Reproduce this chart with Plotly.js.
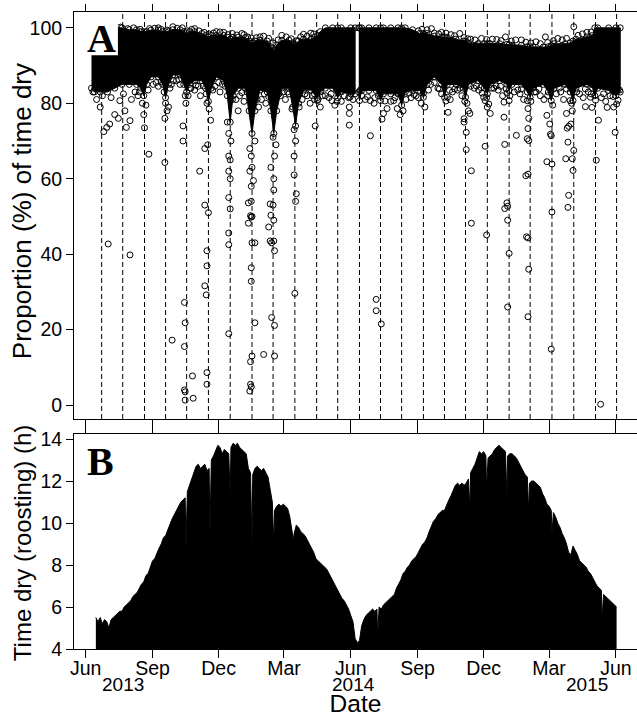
<!DOCTYPE html>
<html>
<head>
<meta charset="utf-8">
<script src="https://cdn.plot.ly/plotly-3.0.1.min.js"></script>
<style>
  html, body { margin: 0; padding: 0; background: #fff; }
  #plot { width: 637px; height: 717px; }
</style>
</head>
<body>
<div id="plot"></div>
<script>
const PLOT_ID = 'plot';
const DAY_MS = 86400000;

// x axis
const X_RANGE = ['2013-05-15 22:00', '2015-06-30 02:00'];
const monthTicks = ['2013-06-01', '2013-09-01', '2013-12-01', '2014-03-01', '2014-06-01',
    '2014-09-01', '2014-12-01', '2015-03-01', '2015-06-01'];
const monthLabels = ['Jun', 'Sep', 'Dec', 'Mar', 'Jun', 'Sep', 'Dec', 'Mar', 'Jun'];
const yearLabels = ['2013', '2014', '2015'];
const yearLabelDates = ['2013-07-23', '2014-06-05', '2015-04-22'];

// full moon dates (dashed lines)
const fullMoons = ['2013-06-23', '2013-07-22', '2013-08-21', '2013-09-19', '2013-10-18', '2013-11-17',
    '2013-12-17', '2014-01-16', '2014-02-14', '2014-03-16', '2014-04-15', '2014-05-14', '2014-06-13',
    '2014-07-12', '2014-08-10', '2014-09-09', '2014-10-08', '2014-11-06', '2014-12-06', '2015-01-05',
    '2015-02-03', '2015-03-05', '2015-04-04', '2015-05-04', '2015-06-02'];

// Panel A: days counted from 2013-06-01
const A_ORIGIN = '2013-06-01';

// dense core of the cloud (where circles overlap into solid black)
const coreBreakDay = 374; // logger gap in June 2014
const coreDay = [8, 12, 20, 30, 40, 50, 60, 70, 76, 80, 84, 90, 100, 106, 110, 114, 120, 130, 135, 139,
    143, 150, 160, 165, 169, 173, 180, 190, 195, 199, 203, 210, 220, 225, 229, 233, 240, 250, 255, 259,
    263, 270, 280, 285, 289, 293, 300, 310, 315, 319, 323, 330, 340, 347, 352, 365, 371,
    376, 377, 380, 390, 400, 406, 410, 420, 430, 435, 440, 450, 460, 465, 470, 480, 490, 494, 498,
    510, 520, 523, 527, 540, 549, 553, 557, 570, 580, 583, 587, 600, 608, 612, 616, 630, 637, 641,
    645, 660, 667, 671, 675, 690, 698, 701, 705, 720, 730, 736];
const coreLow = [84, 83, 83, 83, 84, 85, 85, 85, 84, 82, 85, 87, 87, 85, 81.5, 85, 87.5, 87.5, 85, 83,
    85, 86, 86, 84, 80.5, 84, 87, 86, 82, 75, 82, 84, 84, 78, 72, 78, 83.5, 83, 78, 72,
    78, 84, 84, 79, 74, 80, 83.5, 83.5, 82.5, 81.5, 83, 84, 84, 81.5, 83, 82.5, 82.5,
    83, 80.7, 83.4, 83.4, 83.4, 80.7, 82.5, 82.5, 82.5, 79.5, 83, 83.4, 83.4, 81.6, 85, 87, 85, 81.6, 85,
    85, 84, 81.6, 85, 86, 84, 82.5, 85, 86, 85, 83.4, 85, 85, 83, 81.6, 84, 85, 83, 80.7,
    84, 85, 83, 80.7, 84, 85, 84, 82, 84, 83.4, 82, 83];
const coreHigh = [96, 97, 99, 100, 100, 100, 99.5, 99.5, 99, 99, 99, 99.4, 99.4, 99, 99, 99, 99.5, 99.5, 99, 98.5,
    99, 99, 98.5, 98, 97.5, 98, 98, 98, 97.5, 97, 97.5, 97.5, 97.5, 96.5, 96, 96.5, 96.7, 96.5, 95, 94,
    95.5, 96.7, 96.7, 96, 95.5, 96.5, 97, 97, 97.5, 98, 99, 100, 100, 100, 100, 100, 100,
    100, 100, 100, 100, 100, 100, 100, 100, 100, 100, 100, 99.5, 98.5, 98.5, 98.5, 97.8, 97.6, 97.6, 97.5,
    97, 96.5, 96.5, 96, 95.8, 95.8, 95.8, 95.8, 95.8, 95.6, 95.5, 95.4, 95.4, 95, 95, 95, 94.9, 95, 95.3,
    95.8, 95.8, 96, 96.5, 97, 97.6, 98, 100, 100, 100, 100, 100];

// individual circles outside the core
const ptDay = [13, 15, 20, 25, 29, 33, 40, 45, 47, 54, 56, 61, 63,
    78, 80, 81, 83, 87, 108, 110, 112, 114, 109, 109, 134, 134, 138, 141,
    167, 170, 172, 168, 164, 157, 164, 169,
    195, 197, 200, 197, 199, 197, 199, 197, 199, 210,
    226, 228, 229, 226, 231, 228, 228, 229, 238, 233,
    258, 260, 255, 259, 259, 258, 259, 262,
    287, 289, 287, 287, 290, 289, 315, 316, 323,
    31, 61, 119, 136, 137, 136, 136, 137, 137, 148, 147,
    167, 167, 164, 166, 167, 167, 197, 197, 197,
    224, 227, 228, 229, 233, 228, 228, 233, 229, 227, 227, 228, 226, 224,
    255, 252, 254, 259, 256, 260, 256, 260, 245, 260, 254, 288,
    319, 339, 364, 363, 363, 363, 378, 392, 392, 397, 410, 408, 415, 429, 424, 445, 465,
    498, 499, 502, 521, 521, 524, 525, 527, 529, 524, 531,
    550, 555, 553, 557, 550, 548, 576, 577, 583, 576, 580, 578,
    608, 609, 610, 609, 608, 610, 606, 609, 593,
    635, 639, 640, 641, 635, 642, 633,
    662, 670, 665, 663, 668, 664, 672, 661, 670, 671, 667, 672,
    688, 697, 706, 703, 695, 729, 727, 718,
    400, 400, 407, 531, 552, 580, 581, 577, 581, 583, 581, 607, 609, 610, 609, 642, 641, 664, 665, 709,
    145, 150, 155, 158, 178, 185, 188, 207, 212, 218, 242, 248, 268, 275, 280, 298, 305, 309,
    330, 335, 343, 352, 385, 398, 420, 433, 437, 448, 455, 462, 467, 475, 485, 490, 505, 512, 518,
    535, 541, 546, 562, 568, 574, 590, 598, 603, 620, 626, 631, 648, 654, 658, 680, 685, 692,
    710, 716, 722, 733, 735,
    10, 18, 23, 35, 52, 68, 72, 93, 100, 118, 125, 130,
    100, 120, 150, 180, 190, 215, 245, 270, 300, 310, 470, 490, 515, 530, 545, 560, 600, 620, 650, 690, 476];
const ptVal = [86, 81, 79, 72.5, 73.6, 74.5, 77, 76, 80.7, 78, 73.6, 75.4, 81,
    80, 77, 73.5, 79.5, 66.5, 83, 80, 78, 79, 76, 64.3, 74, 70, 80, 82,
    80, 78.5, 75.5, 69, 68, 62, 53, 51,
    75, 72, 70, 66, 65, 62, 60, 55, 52, 78,
    68, 66, 63, 62, 59.5, 58, 54, 50, 79, 70,
    71, 66, 63, 60, 57, 53, 49, 69,
    73, 70, 66, 61, 56, 54, 81, 74, 79,
    42.7, 39.8, 17.2, 27.2, 21.8, 15.5, 4, 3.5, 1.3, 1.8, 7.7,
    40.9, 36.9, 31.6, 29.2, 8.6, 5.5, 45.6, 42.5, 18.9,
    48.2, 50.2, 49.8, 43, 43, 36.4, 32.8, 21.8, 13, 11.5, 5.5, 4.8, 3.7, 53.6,
    50.3, 47.2, 43.5, 43.5, 43, 40.9, 23.2, 21.1, 13.4, 13, 53.3, 29.6,
    80.7, 80.7, 81.6, 79, 77.3, 74.2, 83.5, 80.7, 71.4, 80, 77.3, 75.8, 78.6, 78.6, 80.7, 82.7, 82.7,
    81.6, 77.6, 81, 75.9, 75, 72.3, 80, 78, 77.3, 67.7, 62.1,
    80.7, 79.8, 79, 77.3, 68.6, 81.6, 76.3, 69.1, 80.7, 80.3, 82.7, 97.6,
    80.7, 78.6, 76, 73.3, 70.6, 70.1, 60.8, 61.2, 71.5,
    76.8, 74.5, 71.8, 71.4, 64.5, 63.9, 97.6,
    77.3, 78, 73.9, 73.4, 74.5, 69.7, 67.5, 65.3, 65.3, 62.2, 80.7, 100.3,
    79.1, 78.9, 75.5, 64.9, 81.6, 72.3, 79, 78.9,
    28, 25, 21.5, 48.2, 45.1, 53.6, 52.7, 52.1, 49, 40.2, 26, 44.6, 44.3, 36, 23.4, 51.2, 14.8, 52.4, 55.6, 0.2,
    84, 83.5, 84.5, 82, 84.5, 83, 85, 81, 82, 80.5, 81, 80, 82, 81, 82.5, 81, 82, 80,
    82, 81.5, 79.5, 80.5, 81, 81.5, 80.5, 77, 78, 81.5, 82, 80, 79, 85, 84, 82.5, 83, 83.5, 82,
    84, 83.5, 82.7, 84, 83.5, 82, 83, 82.5, 81, 83, 82, 81, 82.5, 83, 81, 82.5, 81.5, 83,
    81.5, 80.5, 82, 80.8, 83.5,
    83, 84, 82, 81.5, 82.5, 83, 82, 85, 84.5, 85, 86, 85,
    100, 100.3, 99.8, 99, 98.8, 98.5, 97.8, 98, 98.3, 98.6, 99.5, 98.8, 98.5, 97, 97.2, 97, 96.8, 96.3, 97.2, 98.8, 99.8];

// more circles along the upper and lower edge of the core, [day, %]
const edgeTop = [[48, 100.2], [58, 99.8], [66, 100], [75, 99.6], [88, 99.8], [95, 99.9], [104, 99.6], [112, 99.4],
    [126, 99.9], [133, 100], [140, 99.2], [146, 99.6], [156, 99.2], [163, 98.8], [170, 98.4], [176, 98.6],
    [185, 98.9], [196, 98.2], [202, 98.5], [208, 98.1], [218, 98.2], [223, 97.6], [228, 97.3], [235, 97.4],
    [240, 97.6], [252, 97.2], [258, 96], [265, 96.8], [276, 97.6], [283, 97.1], [290, 96.6], [296, 97.6],
    [305, 97.8], [314, 98.4], [458, 99.2], [463, 99.6], [480, 98.6], [486, 98.4], [496, 98.6], [503, 98.2],
    [508, 97.9], [521, 97.4], [526, 97.1], [536, 96.8], [552, 96.9], [566, 96.9], [572, 96.6], [586, 96.5],
    [592, 96.8], [606, 96.2], [613, 96], [626, 95.8], [636, 96.1], [644, 96.6], [656, 96.8], [662, 97.2],
    [678, 98], [684, 98.4], [696, 98.9]];
const edgeLow = [[74, 83], [86, 83.5], [97, 85.5], [104, 85.7], [116, 84], [121, 86], [128, 86.3], [137, 82],
    [144, 84], [152, 84.8], [162, 84.6], [166, 82.5], [175, 83.5], [183, 85.5], [192, 84.5], [202, 81],
    [215, 82.8], [222, 83], [236, 81], [246, 82.5], [252, 81.8], [266, 82.5], [272, 83], [278, 83],
    [284, 78.5], [294, 79], [302, 82.5], [312, 82], [320, 81], [326, 82], [338, 82.5], [346, 80.5],
    [356, 82], [362, 81.5], [368, 81], [380, 82], [388, 81.7], [403, 82], [412, 80.6], [426, 81.5],
    [441, 81], [452, 82.3], [458, 81.5], [472, 83.5], [480, 85.5], [487, 83.8], [496, 80.6], [501, 83.4],
    [508, 83.8], [515, 84], [522, 80.5], [530, 84.5], [538, 84.6], [544, 84.2], [552, 81.5], [559, 84],
    [565, 84.6], [571, 84.5], [579, 83.8], [584, 82], [595, 83.5], [600, 83.8], [613, 80.5], [618, 83],
    [624, 83.8], [636, 82], [643, 79.5], [652, 84], [662, 83.8], [669, 80], [676, 83], [688, 83.8],
    [696, 82.5], [702, 80.8], [713, 82.5], [726, 81.8], [731, 79.8]];

// Panel B: time dry while roosting, every 3 days from 2013-06-15
const dryStart = '2013-06-15';
const dryStep = 3;
const dryHours = [5.5, 5.3, 5.5, 5.2, 5.4, 5.3, 5.0, 5.4, 5.5, 5.6, 5.7, 5.8, 5.8, 6.0, 6.1, 6.2, 6.3, 6.5, 6.6, 6.7,
    6.9, 7.1, 7.2, 7.5, 7.6, 7.9, 8.2, 8.3, 8.6, 8.8, 9.0, 9.3, 9.4, 9.7, 9.9, 10.2, 10.4, 10.6, 10.8, 11.0,
    11.1, 11.2, 11.5, 11.8, 12.1, 12.3, 12.7, 12.8, 12.6, 12.7, 12.8, 12.5, 12.6, 13.0, 13.2, 13.5, 13.7, 13.6, 13.3, 13.5,
    13.4, 13.3, 13.6, 13.8, 13.7, 13.8, 13.6, 13.5, 13.4, 13.3, 12.6, 12.4, 12.3, 12.6, 12.7, 12.6, 12.5, 12.6, 12.4, 12.2,
    11.6, 11.0, 10.6, 10.8, 10.9, 10.8, 10.9, 10.8, 10.7, 10.3, 9.6, 9.5, 9.9, 9.8, 9.6, 9.5, 9.4, 9.2, 9.0, 8.8,
    8.6, 8.3, 8.2, 8.1, 8.0, 7.9, 7.8, 7.6, 7.4, 7.2, 7.0, 6.8, 6.6, 6.4, 6.3, 6.1, 5.9, 5.6, 5.3, 4.5,
    4.3, 4.4, 5.1, 5.4, 5.6, 5.7, 5.8, 5.9, 5.8, 5.9, 6.0, 5.9, 6.1, 6.2, 6.3, 6.4, 6.5, 6.6, 6.9, 7.1,
    7.3, 7.6, 7.7, 7.9, 8.0, 8.2, 8.3, 8.4, 8.6, 8.8, 9.0, 9.1, 9.3, 9.6, 9.9, 10.1, 10.2, 10.4, 10.5, 10.6,
    10.6, 10.9, 11.1, 11.3, 11.6, 11.8, 11.9, 11.8, 11.9, 11.8, 11.9, 12.1, 12.4, 12.6, 12.8, 13.1, 13.4, 13.3, 13.4, 13.2,
    13.1, 13.2, 13.3, 13.5, 13.6, 13.7, 13.6, 13.5, 13.4, 13.2, 13.3, 13.3, 13.2, 13.1, 12.9, 12.7, 12.5, 12.3, 12.2, 11.9,
    12.0, 12.0, 11.9, 11.8, 11.7, 11.4, 11.2, 10.9, 10.8, 10.6, 10.5, 10.3, 10.0, 9.8, 9.5, 9.3, 9.0, 8.6, 8.5, 8.9,
    8.7, 8.5, 8.2, 8.1, 8.0, 7.9, 7.7, 7.6, 7.4, 7.2, 7.0, 6.9, 6.8, 6.6, 6.5, 6.4, 6.3, 6.2, 6.1, 6.0];
// single-day drops (days after dryStart)
const drySpikeDay = [124, 157, 185, 215, 245, 272, 388, 515, 538, 566, 596, 628, 697];
const drySpikeHours = [8.8, 9.4, 11.2, 9.0, 9.0, 9.2, 4.6, 10.7, 11.6, 11.2, 10.5, 9.5, 5.4];

const dayToDate = (origin, d) => new Date(Date.parse(origin) + d * DAY_MS).toISOString().slice(0, 10);

// closed polygon per segment (low forward, high back), segments split by null
const buildCore = () => {
    const x = [], y = [];
    const segs = [[], []];
    coreDay.forEach((d, i) => segs[d < coreBreakDay ? 0 : 1].push(i));
    segs.forEach((idx, k) => {
        if (k) { x.push(null); y.push(null); }
        idx.forEach(i => { x.push(dayToDate(A_ORIGIN, coreDay[i])); y.push(coreLow[i]); });
        idx.slice().reverse().forEach(i => { x.push(dayToDate(A_ORIGIN, coreDay[i])); y.push(coreHigh[i]); });
    });
    return { x, y };
};

const buildDry = () => {
    const pts = dryHours.map((h, i) => [i * dryStep, h]);
    drySpikeDay.forEach((d, i) => pts.push([d, drySpikeHours[i]]));
    pts.sort((a, b) => a[0] - b[0]);
    return { x: pts.map(p => dayToDate(dryStart, p[0])), y: pts.map(p => p[1]) };
};

const core = buildCore();
const dry = buildDry();
const edges = edgeTop.concat(edgeLow);

const circle = { symbol: 'circle-open', size: 6, color: '#000', line: { width: 1 } };

const traces = [
    {
        x: core.x, y: core.y, xaxis: 'x', yaxis: 'y',
        type: 'scatter', mode: 'lines+markers', fill: 'toself',
        fillcolor: '#000', line: { color: '#000', width: 1 }, marker: circle, hoverinfo: 'none'
    },
    {
        x: ptDay.map(d => dayToDate(A_ORIGIN, d)).concat(edges.map(p => dayToDate(A_ORIGIN, p[0]))),
        y: ptVal.concat(edges.map(p => p[1])),
        xaxis: 'x', yaxis: 'y',
        type: 'scatter', mode: 'markers', marker: circle, hoverinfo: 'none'
    },
    {
        x: dry.x, y: dry.y, xaxis: 'x2', yaxis: 'y2',
        type: 'scatter', mode: 'lines', fill: 'tozeroy',
        fillcolor: '#000', line: { color: '#000', width: 1 }, hoverinfo: 'none'
    }
];

const axisBase = {
    showline: true, linecolor: '#000', linewidth: 1,
    ticks: 'outside', tickcolor: '#000', tickwidth: 1,
    showgrid: false, zeroline: false, fixedrange: true
};

const shapes = fullMoons.map(d => ({
    type: 'line', xref: 'x', yref: 'y domain', x0: d, x1: d, y0: 0, y1: 1,
    line: { color: '#000', width: 1, dash: '5px,3px' }, layer: 'below'
}));
// white box behind the panel letter
shapes.push({
    type: 'rect', xref: 'x domain', yref: 'y domain', x0: 0.002, x1: 0.078, y0: 0.894, y1: 0.997,
    fillcolor: '#fff', line: { width: 0 }, layer: 'above'
});

const letterFont = { family: 'Liberation Serif, serif', size: 40, color: '#000' };
const annotations = [
    { text: '<b>A</b>', xref: 'x domain', yref: 'y domain', x: 0.02, y: 0.935, xanchor: 'left', yanchor: 'middle',
      showarrow: false, font: letterFont },
    { text: '<b>B</b>', xref: 'x2 domain', yref: 'y2 domain', x: 0.02, y: 0.874, xanchor: 'left', yanchor: 'middle',
      showarrow: false, font: letterFont },
    // y titles placed by hand so they sit where the reference has them
    { text: 'Proportion (%) of time dry', xref: 'paper', yref: 'paper', x: -0.092, y: 0.6876, textangle: -90,
      xanchor: 'center', yanchor: 'middle', showarrow: false, font: { size: 26, color: '#000' } },
    { text: 'Time dry (roosting) (h)', xref: 'paper', yref: 'paper', x: -0.092, y: 0.1664, textangle: -90,
      xanchor: 'center', yanchor: 'middle', showarrow: false, font: { size: 24, color: '#000' } }
];
yearLabels.forEach((t, i) => annotations.push({
    text: t, xref: 'x2', yref: 'paper', x: yearLabelDates[i], y: -0.0565,
    xanchor: 'center', yanchor: 'middle', showarrow: false, font: { size: 19, color: '#000' }
}));

const layout = {
    width: 637, height: 717,
    margin: { l: 74, r: 0, t: 12, b: 68 },
    paper_bgcolor: '#fff', plot_bgcolor: '#fff',
    font: { family: 'Liberation Sans, Arial, sans-serif', color: '#000', size: 19.5 },
    showlegend: false, hovermode: false, dragmode: false,
    xaxis: Object.assign({}, axisBase, {
        anchor: 'y', type: 'date', range: X_RANGE, tickvals: monthTicks,
        showticklabels: false, ticklen: 7, mirror: 'ticks'
    }),
    yaxis: Object.assign({}, axisBase, {
        anchor: 'x', domain: [0.3611, 1], range: [-3.7, 104.2], tickvals: [0, 20, 40, 60, 80, 100], ticklen: 7
    }),
    xaxis2: Object.assign({}, axisBase, {
        anchor: 'y2', type: 'date', range: X_RANGE, tickvals: monthTicks, ticktext: monthLabels,
        ticklen: 8, ticklabelstandoff: -6, mirror: 'ticks',
        title: { text: 'Date', font: { size: 24.5 }, standoff: 27 }
    }),
    yaxis2: Object.assign({}, axisBase, {
        anchor: 'x2', domain: [0, 0.3375], range: [4, 14.24], tickvals: [4, 6, 8, 10, 12, 14], ticklen: 7
    }),
    shapes, annotations
};

Plotly.newPlot(PLOT_ID, traces, layout, { displayModeBar: false, staticPlot: true });
</script>
</body>
</html>
